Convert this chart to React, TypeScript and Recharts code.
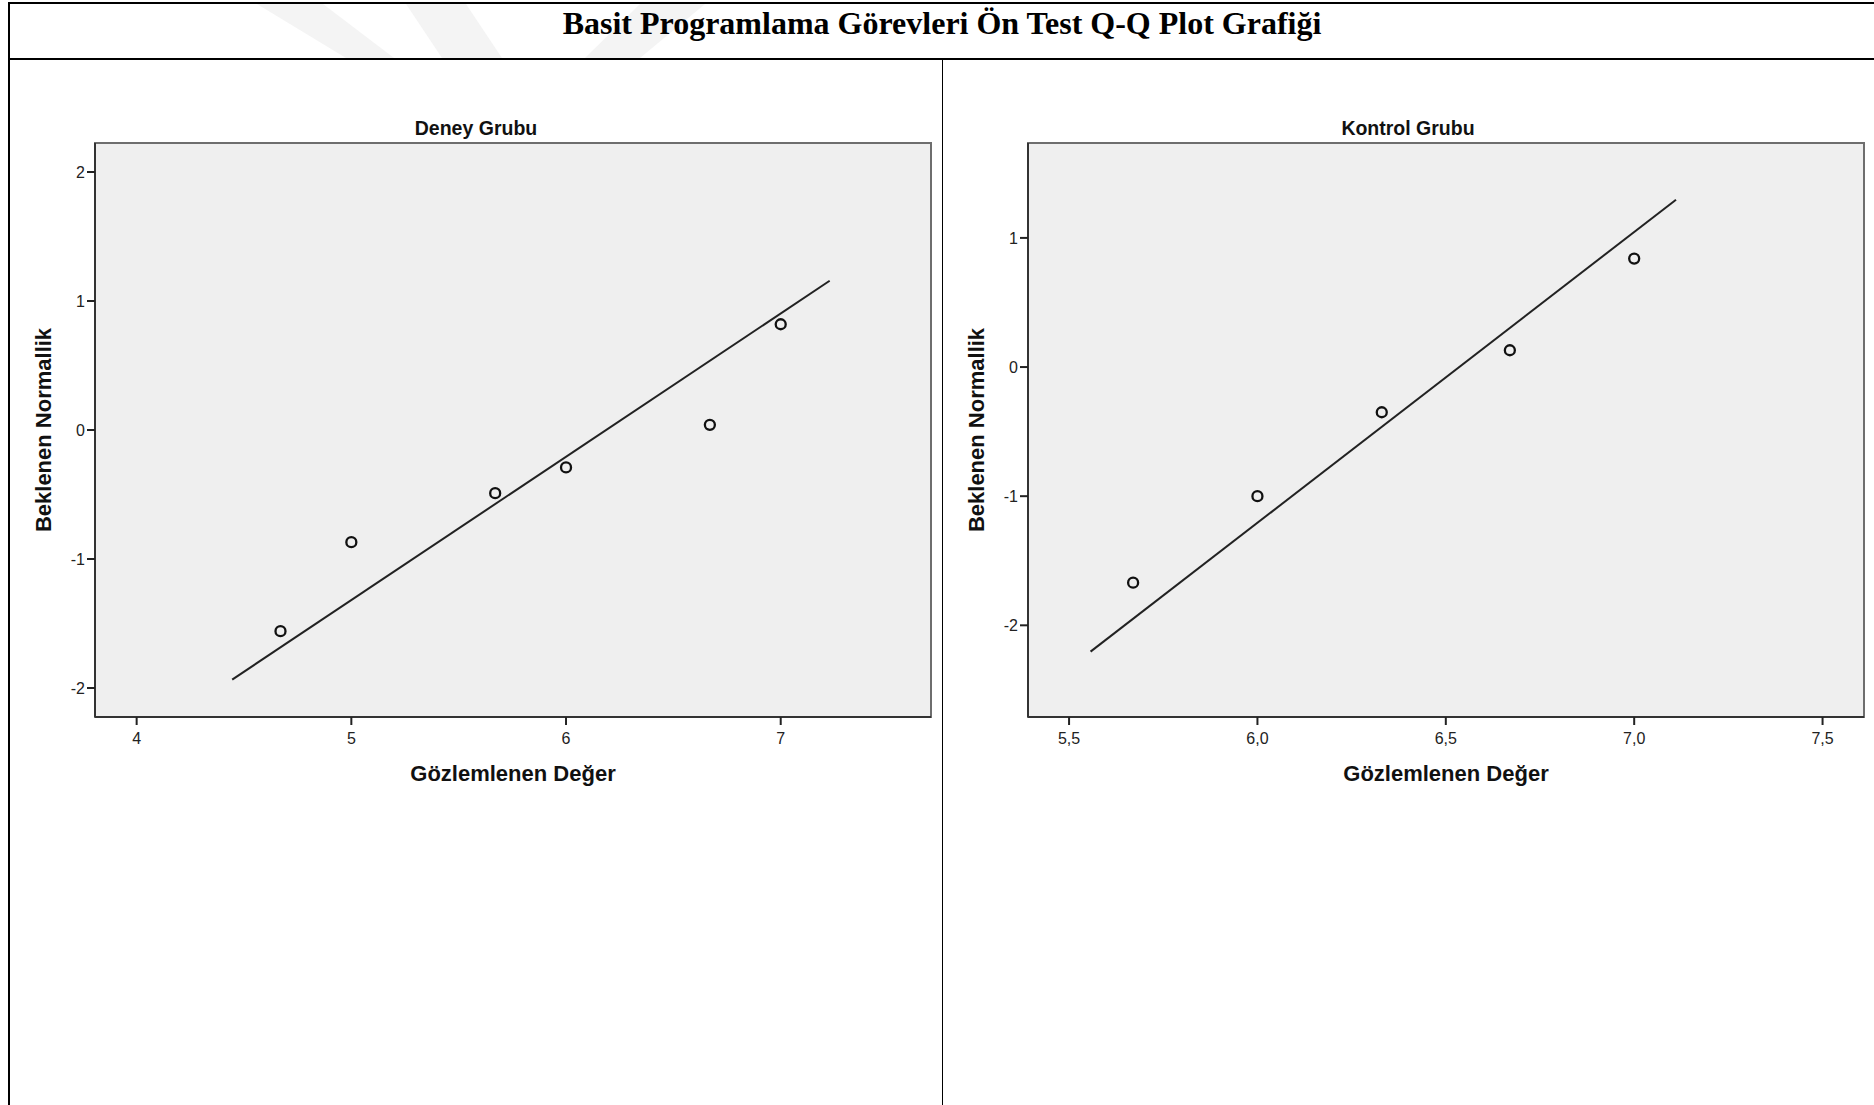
import React from 'react';
import { ScatterChart, Scatter, XAxis, YAxis, ReferenceArea, ReferenceLine } from 'recharts';

// Deney Grubu (observed vs expected normal)
const deneyObserved = [4.67, 5.0, 5.67, 6.0, 6.67, 7.0];
const deneyExpected = [-1.56, -0.87, -0.49, -0.29, 0.04, 0.82];
const deneyLineX = [4.445, 7.228];
const deneyLineY = [-1.935, 1.157];
const deneyXTicks = [4, 5, 6, 7];
const deneyYTicks = [-2, -1, 0, 1, 2];

// Kontrol Grubu
const kontrolObserved = [5.67, 6.0, 6.33, 6.67, 7.0];
const kontrolExpected = [-1.67, -1.0, -0.35, 0.13, 0.84];
const kontrolLineX = [5.557, 7.111];
const kontrolLineY = [-2.204, 1.296];
const kontrolXTicks = [5.5, 6.0, 6.5, 7.0, 7.5];
const kontrolYTicks = [-2, -1, 0, 1];

const SANS = '"Liberation Sans", Arial, sans-serif';

interface PanelProps {
  title: string;
  xs: number[];
  ys: number[];
  lineX: number[];
  lineY: number[];
  xTicks: number[];
  yTicks: number[];
  xDomain: [number, number];
  yDomain: [number, number];
  decimals: number;
  left: number;
  width: number;
  marginLeft: number;
  marginRight: number;
  titleCenter: number;
  yTitleCenter: number;
}

const Dot = (props: any) => (
  <circle cx={props.cx} cy={props.cy} r={5} fill="none" stroke="#111" strokeWidth={2.3} />
);

const QQPanel = ({ title, xs, ys, lineX, lineY, xTicks, yTicks, xDomain, yDomain, decimals, left, width, marginLeft, marginRight, titleCenter, yTitleCenter }: PanelProps) => {
  const data = xs.map((x, i) => ({ x, y: ys[i] }));
  const plotLeft = left + marginLeft + 40;
  const plotRight = left + width - marginRight;
  const plotMid = (plotLeft + plotRight) / 2;
  const fmt = (v: number) => v.toFixed(decimals).replace('.', ',');
  const tickStyle = { fill: '#222', fontSize: 16, fontFamily: SANS };
  return (
    <>
      <div style={{ position: 'absolute', left: titleCenter - 200, width: 400, top: 116, textAlign: 'center', fontFamily: SANS, fontWeight: 'bold', fontSize: 19.5, lineHeight: '24px', color: '#111' }}>
        {title}
      </div>
      <div style={{ position: 'absolute', left: plotMid - 200, width: 400, top: 761, textAlign: 'center', fontFamily: SANS, fontWeight: 'bold', fontSize: 22, lineHeight: '26px', color: '#111' }}>
        Gözlemlenen Değer
      </div>
      <div style={{ position: 'absolute', left: yTitleCenter - 200, width: 400, top: 417, textAlign: 'center', fontFamily: SANS, fontWeight: 'bold', fontSize: 22, lineHeight: '26px', color: '#111', transform: 'rotate(-90deg)' }}>
        Beklenen Normallik
      </div>
      <div style={{ position: 'absolute', left, top: 60 }}>
        <ScatterChart width={width} height={800} margin={{ top: 83, right: marginRight, bottom: 113, left: marginLeft }}>
          <XAxis
            type="number"
            dataKey="x"
            domain={xDomain}
            ticks={xTicks}
            allowDataOverflow
            tickFormatter={fmt}
            height={30}
            tickSize={8}
            tickMargin={8}
            axisLine={{ stroke: '#333', strokeWidth: 2 }}
            tickLine={{ stroke: '#222', strokeWidth: 2 }}
            tick={tickStyle}
          />
          <YAxis
            type="number"
            dataKey="y"
            domain={yDomain}
            ticks={yTicks}
            allowDataOverflow
            width={40}
            tickSize={8}
            tickMargin={2}
            axisLine={{ stroke: '#333', strokeWidth: 2 }}
            tickLine={{ stroke: '#222', strokeWidth: 2 }}
            tick={tickStyle}
          />
          <ReferenceArea x1={xDomain[0]} x2={xDomain[1]} y1={yDomain[0]} y2={yDomain[1]} fill="#efefef" fillOpacity={1} stroke="#6e6e6e" strokeWidth={2} />
          <ReferenceLine
            segment={[{ x: lineX[0], y: lineY[0] }, { x: lineX[1], y: lineY[1] }]}
            stroke="#222"
            strokeWidth={2}
          />
          <Scatter data={data} shape={Dot} isAnimationActive={false} />
        </ScatterChart>
      </div>
    </>
  );
};

export default function App() {
  return (
    <div style={{ position: 'absolute', left: 0, top: 0, width: 1874, height: 1105, background: '#fff', overflow: 'hidden' }}>
      {/* faint watermark strokes in the title band */}
      <svg width={1874} height={60} style={{ position: 'absolute', left: 0, top: 0 }}>
        <polygon points="257,4 323,4 394,58 346,58" fill="#f4f4f4" />
        <polygon points="406,4 466,4 502,58 442,58" fill="#f4f4f4" />
        <polygon points="640,4 705,4 640,58 585,58" fill="#f4f4f4" />
      </svg>
      <div style={{ position: 'absolute', left: 8, top: 2, width: 1866, height: 2, background: '#000' }} />
      <div style={{ position: 'absolute', left: 8, top: 2, width: 2, height: 1103, background: '#000' }} />
      <div style={{ position: 'absolute', left: 8, top: 58, width: 1866, height: 2, background: '#000' }} />
      <div style={{ position: 'absolute', left: 942, top: 60, width: 1, height: 1045, background: '#000' }} />
      <div style={{ position: 'absolute', left: 10, width: 1864, top: 2, height: 42, display: 'flex', alignItems: 'center', justifyContent: 'center', fontFamily: '"Liberation Serif", "Times New Roman", serif', fontWeight: 'bold', fontSize: 32, color: '#000' }}>
        Basit Programlama Görevleri Ön Test Q-Q Plot Grafiği
      </div>
      <QQPanel
        title="Deney Grubu"
        xs={deneyObserved}
        ys={deneyExpected}
        lineX={deneyLineX}
        lineY={deneyLineY}
        xTicks={deneyXTicks}
        yTicks={deneyYTicks}
        xDomain={[3.806, 7.7]}
        yDomain={[-2.225, 2.225]}
        decimals={0}
        left={0}
        width={940}
        marginLeft={55}
        marginRight={9}
        titleCenter={476}
        yTitleCenter={44}
      />
      <QQPanel
        title="Kontrol Grubu"
        xs={kontrolObserved}
        ys={kontrolExpected}
        lineX={kontrolLineX}
        lineY={kontrolLineY}
        xTicks={kontrolXTicks}
        yTicks={kontrolYTicks}
        xDomain={[5.391, 7.61]}
        yDomain={[-2.71, 1.735]}
        decimals={1}
        left={940}
        width={934}
        marginLeft={48}
        marginRight={10}
        titleCenter={1408}
        yTitleCenter={977}
      />
    </div>
  );
}
